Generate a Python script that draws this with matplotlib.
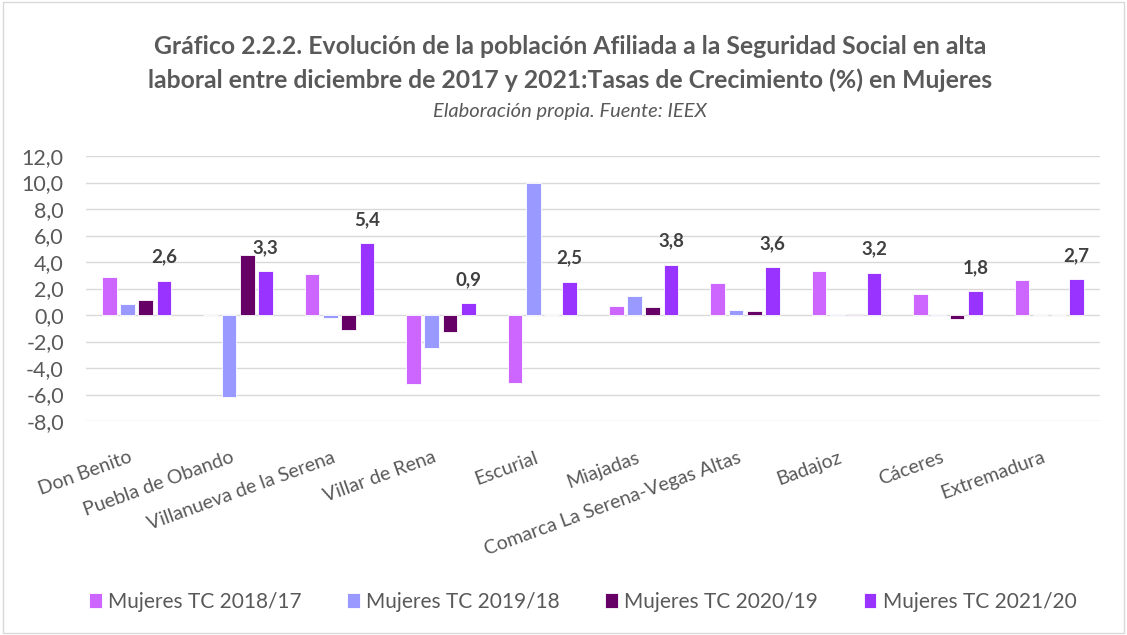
import matplotlib
matplotlib.use("Agg")
import matplotlib.pyplot as plt
from matplotlib.patches import Rectangle
from matplotlib.ticker import FuncFormatter
from matplotlib.transforms import ScaledTranslation
import numpy as np

plt.rcParams['font.family'] = ['Lato', 'DejaVu Sans']

categories = ["Don Benito", "Puebla de Obando", "Villanueva de la Serena",
              "Villar de Rena", "Escurial", "Miajadas",
              "Comarca La Serena-Vegas Altas", "Badajoz", "Cáceres", "Extremadura"]
tc_2018_17 = [2.9, 0.0, 3.1, -5.2, -5.1, 0.7, 2.4, 3.3, 1.6, 2.65]
tc_2019_18 = [0.8, -6.2, -0.2, -2.5, 10.0, 1.4, 0.4, 0.1, -0.05, 0.02]
tc_2020_19 = [1.1, 4.5, -1.1, -1.3, 0.0, 0.6, 0.3, 0.05, -0.3, 0.01]
tc_2021_20 = [2.6, 3.3, 5.4, 0.9, 2.5, 3.8, 3.6, 3.2, 1.8, 2.7]
series_names = ["Mujeres TC 2018/17", "Mujeres TC 2019/18",
                "Mujeres TC 2020/19", "Mujeres TC 2021/20"]
colors = ["#CC66FF", "#9999FF", "#660066", "#9933FF"]

W, H = 1127, 635
fig = plt.figure(figsize=(W / 100, H / 100), dpi=100)
ax = fig.add_axes([86 / W, 1 - 421 / H, (1100 - 86) / W, (421 - 156) / H])

x = np.arange(len(categories))
step = 0.18
width = 0.145
all_series = [tc_2018_17, tc_2019_18, tc_2020_19, tc_2021_20]
for i, (vals, name, col) in enumerate(zip(all_series, series_names, colors)):
    ax.bar(x + (i - 1.5) * step, vals, width, color=col, label=name,
           edgecolor="white", linewidth=0.6, zorder=3)

# labels only on last series
for xi, v in zip(x, tc_2021_20):
    ax.annotate(f"{v:.1f}".replace(".", ","), (xi + 1.5 * step, v),
                xytext=(0, 11), textcoords="offset points", ha="center",
                va="bottom", fontsize=13.5, fontweight="bold", color="#404040")

ax.set_xlim(-0.5, len(categories) - 0.5)
ax.set_ylim(-8, 12)
ax.set_yticks(np.arange(-8, 13, 2))
ax.yaxis.set_major_formatter(FuncFormatter(lambda v, p: f"{v:.1f}".replace(".", ",")))
ax.grid(axis="y", color="#D9D9D9", linewidth=1, zorder=0)
for s in ax.spines.values():
    s.set_visible(False)
ax.tick_params(axis="both", length=0, colors="#595959")
ax.tick_params(axis="y", pad=16, labelsize=15.5)
ax.set_xticks(x)
ax.set_xticklabels(categories, rotation=20, ha="right", rotation_mode="anchor",
                   fontsize=14, color="#595959")
ax.tick_params(axis="x", pad=20)
# shift category labels a bit to the left, like the original
for lbl in ax.get_xticklabels():
    lbl.set_transform(lbl.get_transform() + ScaledTranslation(-8 / 100, 0, fig.dpi_scale_trans))

fig.text(0.506, 1 - 47 / H, "Gráfico 2.2.2. Evolución de la población Afiliada a la Seguridad Social en alta",
         ha="center", va="center", fontsize=17.8, fontweight="bold", color="#595959")
fig.text(0.506, 1 - 80 / H, "laboral entre diciembre de 2017 y 2021:Tasas de Crecimiento (%) en Mujeres",
         ha="center", va="center", fontsize=17.8, fontweight="bold", color="#595959")
fig.text(0.506, 1 - 112 / H, "Elaboración propia. Fuente: IEEX",
         ha="center", va="center", fontsize=14.5, style="italic", color="#595959")

fig.legend(loc="center", bbox_to_anchor=(0.517, 1 - 602 / H), ncol=4, frameon=False,
           fontsize=15, handlelength=0.6, handleheight=0.7, columnspacing=2.2,
           handletextpad=0.3, labelcolor="#595959")

fig.patches.append(Rectangle((0.003, 0.003), 0.994, 0.994, transform=fig.transFigure,
                             fill=False, edgecolor="#D9D9D9", linewidth=1))

fig.savefig("out.png", dpi=100)
